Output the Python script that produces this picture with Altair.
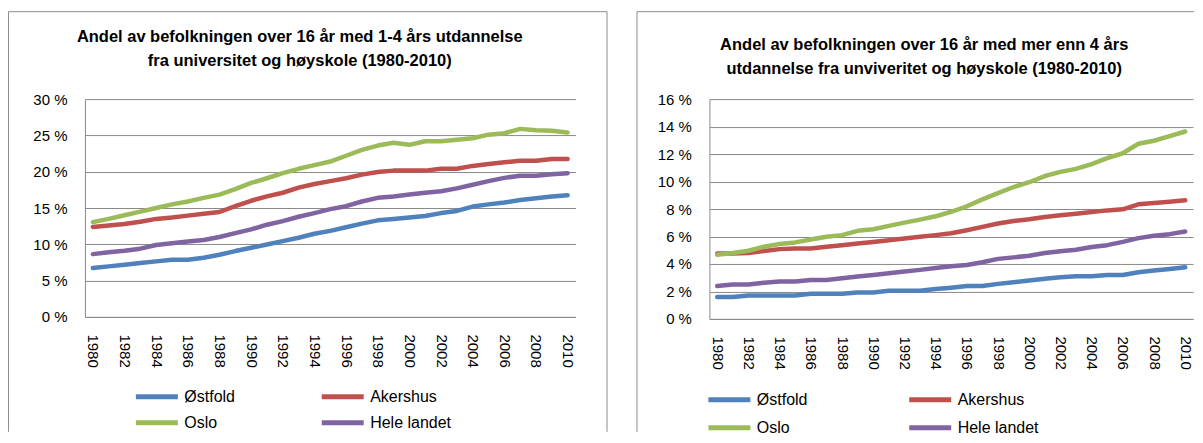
import altair as alt
import pandas as pd

years = list(range(1980, 2011))
label_years = list(range(1980, 2011, 2))
series_names = ["Østfold", "Akershus", "Oslo", "Hele landet"]
series_colors = ["#4F81BD", "#C0504D", "#9BBB59", "#8064A2"]

left_title = ["Andel av befolkningen over 16 år med 1-4 års utdannelse",
              "fra universitet og høyskole (1980-2010)"]
right_title = ["Andel av befolkningen over 16 år med mer enn 4 års",
               "utdannelse fra unviveritet og høyskole (1980-2010)"]

left_ticks = [0, 5, 10, 15, 20, 25, 30]
right_ticks = [0, 2, 4, 6, 8, 10, 12, 14, 16]

# Left panel: 1-4 years of higher education (percent)
left_ostfold = [6.73, 6.96, 7.19, 7.42, 7.65, 7.88, 7.88, 8.15, 8.56, 9.07, 9.52,
                9.98, 10.44, 10.9, 11.45, 11.85, 12.35, 12.85, 13.3, 13.5, 13.7,
                13.9, 14.3, 14.6, 15.2, 15.5, 15.75, 16.1, 16.35, 16.6, 16.75]
left_akershus = [12.4, 12.6, 12.8, 13.1, 13.5, 13.7, 13.95, 14.2, 14.45, 15.25, 16.0,
                 16.6, 17.1, 17.8, 18.3, 18.7, 19.1, 19.6, 19.95, 20.15, 20.15,
                 20.15, 20.4, 20.4, 20.8, 21.05, 21.3, 21.5, 21.5, 21.75, 21.75]
left_oslo = [13.05, 13.5, 14.0, 14.5, 15.0, 15.5, 15.9, 16.4, 16.85, 17.6, 18.45,
             19.1, 19.8, 20.4, 20.9, 21.4, 22.2, 23.0, 23.6, 24.0, 23.7,
             24.2, 24.2, 24.4, 24.6, 25.1, 25.3, 25.9, 25.7, 25.65, 25.4]
left_hele = [8.65, 8.9, 9.1, 9.4, 9.9, 10.15, 10.4, 10.6, 11.0, 11.55, 12.05,
             12.7, 13.2, 13.8, 14.3, 14.85, 15.25, 15.9, 16.4, 16.6, 16.85,
             17.1, 17.3, 17.7, 18.2, 18.7, 19.15, 19.45, 19.45, 19.65, 19.8]

# Right panel: more than 4 years of higher education (percent)
right_ostfold = [1.59, 1.59, 1.71, 1.71, 1.71, 1.71, 1.83, 1.83, 1.83, 1.93, 1.93,
                 2.05, 2.05, 2.05, 2.17, 2.27, 2.39, 2.39, 2.55, 2.67, 2.8,
                 2.92, 3.04, 3.11, 3.11, 3.2, 3.2, 3.4, 3.52, 3.64, 3.76]
right_akershus = [4.77, 4.77, 4.8, 4.94, 5.08, 5.13, 5.13, 5.25, 5.37, 5.49, 5.6,
                  5.73, 5.86, 5.98, 6.1, 6.24, 6.46, 6.7, 6.94, 7.13, 7.25,
                  7.42, 7.54, 7.66, 7.78, 7.9, 7.98, 8.34, 8.43, 8.53, 8.63]
right_oslo = [4.67, 4.8, 4.96, 5.25, 5.45, 5.57, 5.78, 5.98, 6.1, 6.41, 6.53,
              6.77, 7.01, 7.23, 7.47, 7.8, 8.2, 8.7, 9.15, 9.6, 9.95,
              10.4, 10.7, 10.92, 11.27, 11.7, 12.06, 12.75, 12.97, 13.3, 13.64]
right_hele = [2.39, 2.5, 2.5, 2.63, 2.72, 2.72, 2.84, 2.84, 2.96, 3.08, 3.2,
              3.33, 3.45, 3.57, 3.71, 3.83, 3.93, 4.12, 4.37, 4.48, 4.6,
              4.8, 4.92, 5.04, 5.23, 5.37, 5.61, 5.88, 6.05, 6.17, 6.36]

FONT = "Liberation Sans"
GRID = "#8a8a8a"
BORDER = "#8c8c8c"


def to_long(values_by_series):
    rows = []
    for name, vals in zip(series_names, values_by_series):
        for yr, v in zip(years, vals):
            rows.append({"year": yr, "series": name, "value": v})
    return pd.DataFrame(rows)


def panel(df, ticks, title_lines, w, h, title_x, title_y, fx1, fx2, fy1, fy2,
          right_edge, legend_x, legend_y, col_pad, row_pad):
    lines = alt.Chart(df).mark_line(
        strokeWidth=4.5, strokeCap="round", strokeJoin="round"
    ).encode(
        x=alt.X("year:O", title=None,
                scale=alt.Scale(type="point", padding=0.5),
                axis=alt.Axis(values=label_years, labelAngle=90, labelFont=FONT,
                              labelFontSize=15, labelColor="#000", labelPadding=17,
                              labelOverlap=False, ticks=False, grid=False,
                              domainColor=GRID, domainWidth=1)),
        y=alt.Y("value:Q", title=None,
                scale=alt.Scale(domain=[ticks[0], ticks[-1]], nice=False),
                axis=alt.Axis(values=ticks, labelExpr="datum.value + ' %'",
                              labelFont=FONT, labelFontSize=15, labelColor="#000",
                              labelPadding=18, ticks=False, grid=True,
                              gridColor=GRID, gridWidth=1, domainColor=GRID,
                              domainWidth=1)),
        color=alt.Color("series:N",
                        scale=alt.Scale(domain=series_names, range=series_colors),
                        legend=alt.Legend(title=None, orient="none",
                                          direction="horizontal",
                                          legendX=legend_x, legendY=legend_y,
                                          columns=2, columnPadding=col_pad,
                                          rowPadding=row_pad, symbolType="stroke",
                                          symbolSize=1764, symbolStrokeWidth=5,
                                          labelFont=FONT, labelFontSize=16,
                                          labelColor="#000", labelOffset=4,
                                          clipHeight=18, padding=0)),
    )
    one = pd.DataFrame({"k": [0]})
    title = alt.Chart(one).mark_text(
        text=title_lines, font=FONT, fontSize=16.5, fontWeight="bold",
        lineHeight=24, align="center", baseline="middle", color="#000"
    ).encode(x=alt.value(title_x), y=alt.value(title_y))
    rule = alt.Chart(one).mark_rule(color=BORDER, strokeWidth=1)
    layers = [
        rule.encode(x=alt.value(fx1), y=alt.value(fy1), y2=alt.value(fy2)),
        rule.encode(x=alt.value(fx1), x2=alt.value(fx2), y=alt.value(fy1)),
    ]
    if right_edge:
        layers.append(rule.encode(x=alt.value(fx2), y=alt.value(fy1), y2=alt.value(fy2)))
    layers += [title, lines]
    return alt.layer(*layers).properties(width=w, height=h)


left = panel(to_long([left_ostfold, left_akershus, left_oslo, left_hele]),
             left_ticks, left_title, 491, 218,
             215, -62.5, -76.5, 522.5, -87.5, 333, True,
             48.5, 289, 84, 8)
right = panel(to_long([right_ostfold, right_akershus, right_oslo, right_hele]),
              right_ticks, right_title, 484, 220,
              215, -54, -72.5, 485, -87.5, 333, False,
              -3.5, 292, 99, 10)

chart = alt.hconcat(left, right, spacing=29).resolve_scale(
    color="independent", x="independent", y="independent"
).resolve_legend(color="independent").properties(
    padding={"left": 0, "top": 3, "right": 0, "bottom": 0},
    background="white",
).configure_view(strokeWidth=0)

chart.save("out.html", embed_options={"renderer": "svg", "actions": False})
